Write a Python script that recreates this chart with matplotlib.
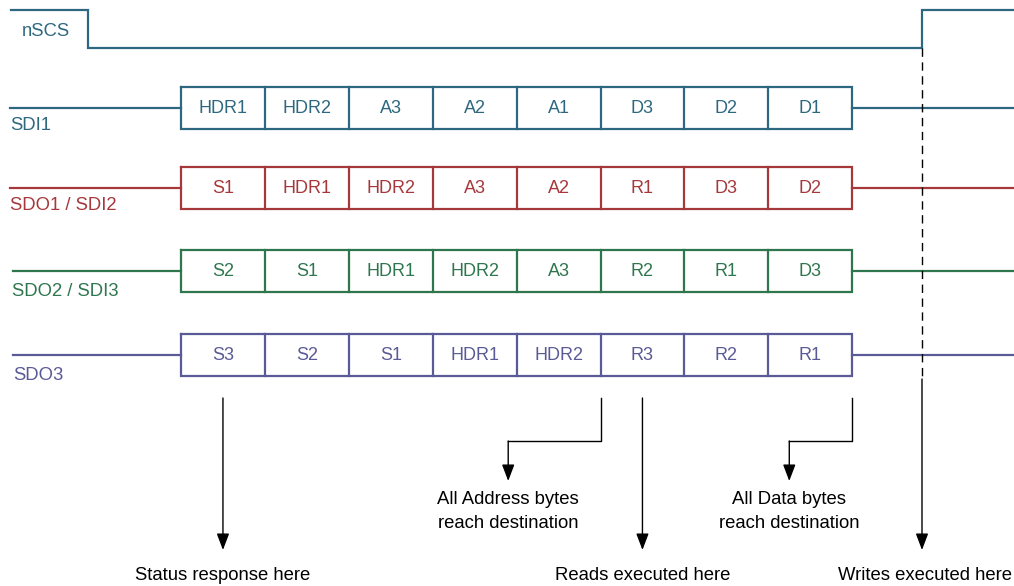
##################################
# SPI DAISY-CHAIN TIMING DIAGRAM

import matplotlib.pyplot as plt

plt.rcParams['font.family'] = ['Liberation Sans', 'DejaVu Sans']

# signals and the byte carried in each slot
row_names = ['SDI1', 'SDO1 / SDI2', 'SDO2 / SDI3', 'SDO3']
row_colors = ['#2E6880', '#A6383C', '#2E764E', '#5A5A96']
row_cells = [
    ['HDR1', 'HDR2', 'A3', 'A2', 'A1', 'D3', 'D2', 'D1'],
    ['S1', 'HDR1', 'HDR2', 'A3', 'A2', 'R1', 'D3', 'D2'],
    ['S2', 'S1', 'HDR1', 'HDR2', 'A3', 'R2', 'R1', 'D3'],
    ['S3', 'S2', 'S1', 'HDR1', 'HDR2', 'R3', 'R2', 'R1'],
]

# event markers: slot boundary index where each arrow starts, and its text
straight_events = [(0.5, 'Status response here'), (5.5, 'Reads executed here')]
bent_events = [(5, 3.9, ['All Address bytes', 'reach destination']),
               (8, 7.25, ['All Data bytes', 'reach destination'])]
write_label = 'Writes executed here'

# layout (pixel space)
W, H = 1014, 586
x0, cell_w = 181, 83.9
row_top = [87, 167, 250, 334]
box_h = 42
line_start = [10, 10, 13, 13]
label_pos = [(10, 126), (10, 205), (12, 291), (13, 375)]
cs_low, cs_high, cs_fall, cs_rise = 48, 9.5, 88, 922
fs = 13.3
cell_fs = 13.0
arrow_top, bend_y, bent_tip, tip_y = 398, 441, 481, 550

fig = plt.figure(figsize=(W / 100, H / 100), dpi=100)
ax = fig.add_axes([0, 0, 1, 1])
ax.set_xlim(0, W)
ax.set_ylim(H, 0)
ax.axis('off')

teal = row_colors[0]

# chip select
ax.plot([11, cs_fall, cs_fall, cs_rise, cs_rise, W],
        [cs_high, cs_high, cs_low, cs_low, cs_high, cs_high],
        color=teal, lw=1.6, solid_joinstyle='miter')
ax.text(22, 31, 'nSCS', color=teal, fontsize=fs, va='center', ha='left')

x_end = x0 + cell_w * len(row_cells[0])
for i, (name, col, cells) in enumerate(zip(row_names, row_colors, row_cells)):
    top = row_top[i]
    mid = top + box_h / 2
    ax.plot([line_start[i], x0], [mid, mid], color=col, lw=1.6)
    ax.plot([x_end, W], [mid, mid], color=col, lw=1.6)
    ax.plot([x0, x_end, x_end, x0, x0], [top, top, top + box_h, top + box_h, top],
            color=col, lw=1.6, solid_joinstyle='miter')
    for k, txt in enumerate(cells):
        if k > 0:
            xb = x0 + k * cell_w
            ax.plot([xb, xb], [top, top + box_h], color=col, lw=1.6)
        ax.text(x0 + (k + 0.5) * cell_w, mid + 0.5, txt, color=col, fontsize=cell_fs,
                ha='center', va='center')
    ax.text(label_pos[i][0], label_pos[i][1], name, color=col, fontsize=fs,
            ha='left', va='center')

arrow_kw = dict(arrowstyle='-|>,head_length=1.0,head_width=0.38', color='black',
                lw=1, shrinkA=0, shrinkB=0, mutation_scale=10)

for pos, txt in straight_events:
    xa = x0 + pos * cell_w
    ax.annotate('', xy=(xa, tip_y), xytext=(xa, arrow_top), arrowprops=arrow_kw)
    ax.text(xa, 575, txt, fontsize=fs, ha='center', va='center')

for pos, dest, lines in bent_events:
    xs = x0 + pos * cell_w
    xd = x0 + dest * cell_w
    ax.plot([xs, xs, xd], [arrow_top, bend_y, bend_y], color='black', lw=1)
    ax.annotate('', xy=(xd, bent_tip), xytext=(xd, bend_y), arrowprops=arrow_kw)
    ax.text(xd, 500, lines[0], fontsize=fs, ha='center', va='center')
    ax.text(xd, 523, lines[1], fontsize=fs, ha='center', va='center')

# write marker from chip select release
ax.plot([cs_rise, cs_rise], [cs_low, 379], color='black', lw=1, ls=(0, (6, 4)))
ax.annotate('', xy=(cs_rise, tip_y), xytext=(cs_rise, 379), arrowprops=arrow_kw)
ax.text(925, 575, write_label, fontsize=fs, ha='center', va='center')

fig.savefig('out.png', dpi=100)
